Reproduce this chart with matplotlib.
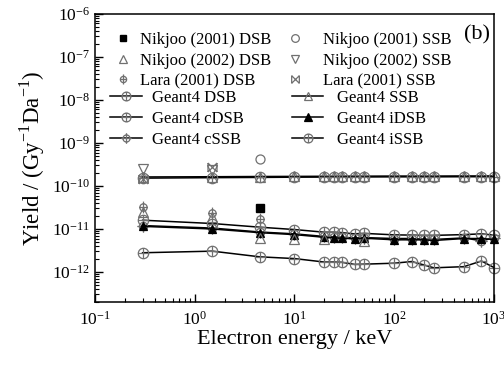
import matplotlib
matplotlib.use("Agg")
import matplotlib.pyplot as plt
import numpy as np
from matplotlib.path import Path
from matplotlib.legend import Legend

plt.rcParams['font.family'] = ['Liberation Serif', 'DejaVu Serif']
plt.rcParams['mathtext.fontset'] = 'custom'
plt.rcParams['mathtext.rm'] = 'Liberation Serif'

# Geant4 energies (keV)
energy = [0.3, 1.5, 4.5, 10, 20, 25, 30, 40, 50, 100, 150, 200, 250, 500, 750, 1000]

# Geant4 yields (Gy-1 Da-1)
g4_ssb = [1.62e-10, 1.64e-10, 1.66e-10, 1.67e-10, 1.68e-10, 1.68e-10, 1.69e-10, 1.69e-10,
          1.69e-10, 1.70e-10, 1.70e-10, 1.70e-10, 1.70e-10, 1.71e-10, 1.71e-10, 1.71e-10]
g4_issb = [1.52e-10, 1.56e-10, 1.58e-10, 1.60e-10, 1.61e-10, 1.61e-10, 1.62e-10, 1.62e-10,
           1.62e-10, 1.63e-10, 1.63e-10, 1.63e-10, 1.63e-10, 1.64e-10, 1.64e-10, 1.64e-10]
g4_dsb = [1.60e-11, 1.34e-11, 1.10e-11, 9.7e-12, 8.4e-12, 8.4e-12, 8.2e-12, 7.7e-12,
          7.9e-12, 7.3e-12, 7.2e-12, 7.1e-12, 7.1e-12, 7.4e-12, 7.7e-12, 7.2e-12]
g4_idsb = [1.15e-11, 1.00e-11, 8.2e-12, 7.4e-12, 6.4e-12, 6.2e-12, 6.1e-12, 5.9e-12,
           6.1e-12, 5.6e-12, 5.6e-12, 5.6e-12, 5.4e-12, 6.0e-12, 6.0e-12, 5.7e-12]
g4_cssb = [1.20e-11, 1.05e-11, 8.5e-12, 7.7e-12, 6.7e-12, 6.5e-12, 6.4e-12, 6.2e-12,
           6.3e-12, 6.0e-12, 6.0e-12, 5.8e-12, 5.7e-12, 6.2e-12, 5.3e-12, 6.2e-12]
g4_cdsb = [2.8e-12, 3.05e-12, 2.25e-12, 2.05e-12, 1.7e-12, 1.7e-12, 1.68e-12, 1.5e-12,
           1.52e-12, 1.6e-12, 1.75e-12, 1.45e-12, 1.25e-12, 1.33e-12, 1.8e-12, 1.27e-12]

# literature values
nik01_e = [4.5]
nik01_dsb = [3.0e-11]
nik01_ssb = [4.3e-10]
nik02_e = [0.3, 1.5, 4.5, 10, 20, 50]
nik02_dsb = [2.5e-11, 1.9e-11, 6.2e-12, 5.7e-12, 5.8e-12, 5.2e-12]
nik02_ssb_e = [0.3, 1.5]
nik02_ssb = [2.5e-10, 2.4e-10]
lara_e = [0.3, 1.5, 4.5]
lara_dsb = [3.2e-11, 2.3e-11, 1.7e-11]
lara_ssb_e = [0.3, 1.5]
lara_ssb = [1.45e-10, 2.8e-10]

# custom marker shapes
circ = Path.unit_circle()
def cross_path(h, v):
    return Path([[-h, 0], [h, 0], [0, -v], [0, v]],
                [Path.MOVETO, Path.LINETO, Path.MOVETO, Path.LINETO])
oplus = Path.make_compound_path(circ, cross_path(1, 1))
oplus_long = Path.make_compound_path(circ, cross_path(1.5, 1.5))
oplus_tall = Path.make_compound_path(circ, cross_path(1, 1.6))
bowtie = Path([[-1, -1], [1, 1], [-1, 1], [1, -1], [-1, -1], [-1, 1], [1, -1], [1, 1]],
              [Path.MOVETO, Path.LINETO, Path.MOVETO, Path.LINETO,
               Path.MOVETO, Path.LINETO, Path.MOVETO, Path.LINETO])

grey = '#707070'

fig = plt.figure(figsize=(5.04, 3.67), dpi=100)
ax = fig.add_axes([0.1885, 0.177, 0.7915, 0.785])

def g4(y, marker, ms, label, mfc='none', mec=grey):
    return ax.plot(energy, y, color='black', lw=1.1, marker=marker, ms=ms,
                   mfc=mfc, mec=mec, mew=0.9, label=label, clip_on=False)[0]

h_ssb = g4(g4_ssb, '^', 6.5, 'Geant4 SSB')
h_issb = g4(g4_issb, oplus, 7.5, 'Geant4 iSSB')
h_dsb = g4(g4_dsb, oplus, 7.5, 'Geant4 DSB')
h_cssb = g4(g4_cssb, oplus_long, 9, 'Geant4 cSSB')
h_idsb = g4(g4_idsb, '^', 6, 'Geant4 iDSB', mfc='black', mec='black')
h_cdsb = g4(g4_cdsb, oplus, 7.5, 'Geant4 cDSB')

e1 = ax.plot(nik01_e, nik01_dsb, ls='none', marker='s', ms=5.5, color='black',
             label='Nikjoo (2001) DSB')[0]
e2 = ax.plot(nik01_e, nik01_ssb, ls='none', marker='o', ms=6.5, mfc='none', mec=grey,
             mew=0.9, label='Nikjoo (2001) SSB')[0]
e3 = ax.plot(nik02_e, nik02_dsb, ls='none', marker='^', ms=7, mfc='none', mec=grey,
             mew=0.9, label='Nikjoo (2002) DSB')[0]
e4 = ax.plot(nik02_ssb_e, nik02_ssb, ls='none', marker='v', ms=7, mfc='none', mec=grey,
             mew=0.9, label='Nikjoo (2002) SSB')[0]
e5 = ax.plot(lara_e, lara_dsb, ls='none', marker=oplus_tall, ms=8.5, mfc='none', mec=grey,
             mew=0.9, label='Lara (2001) DSB')[0]
e6 = ax.plot(lara_ssb_e, lara_ssb, ls='none', marker=bowtie, ms=6.5, mfc='none', mec=grey,
             mew=0.9, label='Lara (2001) SSB')[0]

ax.set_xscale('log')
ax.set_yscale('log')
ax.set_xlim(0.1, 1000)
ax.set_ylim(2e-13, 1e-6)
ax.set_yticks([10.0**k for k in range(-12, -5)])
ax.tick_params(which='both', direction='in', top=False, right=False, labelsize=12.5)
ax.tick_params(which='major', length=6, width=1)
ax.tick_params(which='minor', length=3, width=0.8)
ax.tick_params(axis='x', pad=6)
for s in ax.spines.values():
    s.set_linewidth(1.1)

ax.set_xlabel('Electron energy / keV', fontsize=16, labelpad=1)
ax.set_ylabel('Yield / (Gy$^{-1}$Da$^{-1}$)', fontsize=16.5, labelpad=4)
ax.text(0.99, 0.927, '(b)', transform=ax.transAxes, fontsize=16, ha='right', va='center')

# four single-column legends, placed like the original
def column(handles, x, y, hl, pad):
    leg = Legend(ax, handles, [h.get_label() for h in handles], frameon=False,
                 fontsize=12, loc='upper left', bbox_to_anchor=(x, y),
                 handlelength=hl, handletextpad=pad, labelspacing=0.28,
                 borderpad=0, borderaxespad=0, markerscale=0.85)
    ax.add_artist(leg)

column([e1, e3, e5], 0.053, 0.9375, 0.8, 0.66)
column([e2, e4, e6], 0.484, 0.9375, 0.8, 1.3)
column([h_dsb, h_cdsb, h_cssb], 0.0376, 0.735, 1.92, 0.6)
column([h_ssb, h_idsb, h_issb], 0.494, 0.735, 1.86, 0.84)

fig.savefig('out.png', dpi=100)
